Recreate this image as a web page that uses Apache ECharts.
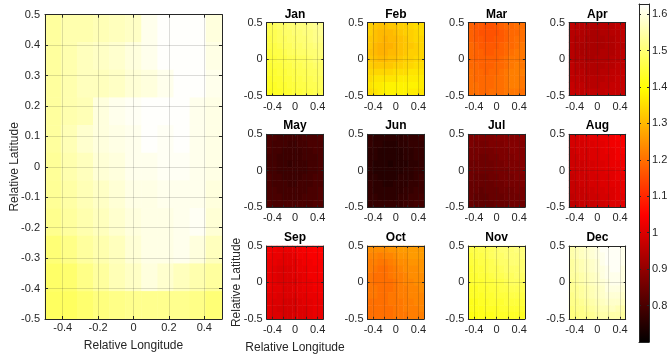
<!DOCTYPE html>
<html>
<head>
<meta charset="utf-8">
<script src="https://cdn.jsdelivr.net/npm/echarts@6/dist/echarts.min.js"></script>
<style>
  html, body { margin: 0; padding: 0; background: #ffffff; }
  #chart { width: 670px; height: 362px; }
</style>
</head>
<body>
<div id="chart"></div>
<script>
// Grid cell centres (relative degrees), west→east and south→north
const lonCenters = ['-0.5', '-0.4', '-0.3', '-0.2', '-0.1', '0', '0.1', '0.2', '0.3', '0.4', '0.5'];
const latCenters = ['-0.5', '-0.4', '-0.3', '-0.2', '-0.1', '0', '0.1', '0.2', '0.3', '0.4', '0.5'];

const monthNames = ['Jan', 'Feb', 'Mar', 'Apr', 'May', 'Jun', 'Jul', 'Aug', 'Sep', 'Oct', 'Nov', 'Dec'];

// Tick labels
const mainLonLabels = ['-0.4', '-0.2', '0', '0.2', '0.4'];
const mainLatLabels = ['-0.5', '-0.4', '-0.3', '-0.2', '-0.1', '0', '0.1', '0.2', '0.3', '0.4', '0.5'];
const smallLonLabels = ['-0.4', '0', '0.4'];
const smallLatLabels = ['-0.5', '0', '0.5'];
const colorbarLabels = ['0.8', '0.9', '1', '1.1', '1.2', '1.3', '1.4', '1.5', '1.6'];
const colorRange = [0.7, 1.628];

// Fields: rows run north (0.5) → south (-0.5), columns west (-0.5) → east (0.5)
const annualMean = [
  [1.539, 1.554, 1.554, 1.561, 1.568, 1.575, 1.611, 1.625, 1.625, 1.625, 1.597],
  [1.539, 1.554, 1.568, 1.575, 1.583, 1.597, 1.611, 1.625, 1.625, 1.625, 1.604],
  [1.539, 1.554, 1.568, 1.568, 1.575, 1.590, 1.597, 1.611, 1.625, 1.625, 1.611],
  [1.539, 1.554, 1.561, 1.597, 1.611, 1.618, 1.625, 1.625, 1.625, 1.611, 1.604],
  [1.539, 1.561, 1.583, 1.597, 1.604, 1.611, 1.625, 1.618, 1.625, 1.611, 1.604],
  [1.534, 1.554, 1.568, 1.590, 1.597, 1.611, 1.611, 1.618, 1.618, 1.611, 1.604],
  [1.532, 1.546, 1.561, 1.575, 1.590, 1.604, 1.604, 1.611, 1.611, 1.611, 1.597],
  [1.525, 1.539, 1.554, 1.568, 1.583, 1.597, 1.604, 1.604, 1.611, 1.618, 1.590],
  [1.503, 1.518, 1.539, 1.554, 1.568, 1.590, 1.604, 1.604, 1.611, 1.597, 1.568],
  [1.489, 1.496, 1.518, 1.539, 1.561, 1.575, 1.597, 1.583, 1.568, 1.554, 1.539],
  [1.482, 1.482, 1.496, 1.510, 1.518, 1.525, 1.525, 1.525, 1.525, 1.518, 1.503]
];

const janField = [
  [1.47, 1.48, 1.49, 1.49, 1.50, 1.50, 1.51, 1.51, 1.52, 1.53, 1.53],
  [1.47, 1.47, 1.48, 1.49, 1.49, 1.50, 1.50, 1.51, 1.51, 1.52, 1.53],
  [1.46, 1.47, 1.48, 1.48, 1.49, 1.49, 1.50, 1.50, 1.51, 1.52, 1.52],
  [1.46, 1.46, 1.47, 1.48, 1.48, 1.49, 1.49, 1.50, 1.50, 1.51, 1.51],
  [1.45, 1.46, 1.46, 1.47, 1.48, 1.48, 1.49, 1.49, 1.50, 1.50, 1.51],
  [1.45, 1.45, 1.46, 1.46, 1.47, 1.47, 1.48, 1.48, 1.49, 1.50, 1.50],
  [1.44, 1.45, 1.45, 1.46, 1.46, 1.47, 1.47, 1.48, 1.48, 1.49, 1.49],
  [1.44, 1.44, 1.45, 1.45, 1.46, 1.46, 1.47, 1.47, 1.48, 1.48, 1.49],
  [1.43, 1.44, 1.44, 1.45, 1.45, 1.46, 1.46, 1.47, 1.47, 1.48, 1.48],
  [1.43, 1.43, 1.44, 1.44, 1.45, 1.45, 1.46, 1.46, 1.47, 1.47, 1.48],
  [1.42, 1.43, 1.43, 1.44, 1.44, 1.45, 1.45, 1.46, 1.46, 1.47, 1.47]
];
const febField = [
  [1.33, 1.32, 1.31, 1.31, 1.32, 1.32, 1.33, 1.33, 1.34, 1.35, 1.35],
  [1.33, 1.31, 1.30, 1.30, 1.30, 1.31, 1.32, 1.33, 1.33, 1.34, 1.35],
  [1.32, 1.31, 1.30, 1.29, 1.30, 1.30, 1.31, 1.32, 1.33, 1.34, 1.34],
  [1.32, 1.30, 1.29, 1.29, 1.29, 1.30, 1.31, 1.32, 1.32, 1.33, 1.34],
  [1.31, 1.30, 1.29, 1.29, 1.30, 1.30, 1.31, 1.32, 1.33, 1.33, 1.34],
  [1.32, 1.31, 1.30, 1.30, 1.31, 1.31, 1.32, 1.33, 1.33, 1.34, 1.34],
  [1.33, 1.32, 1.32, 1.32, 1.32, 1.33, 1.33, 1.34, 1.34, 1.35, 1.35],
  [1.34, 1.34, 1.34, 1.34, 1.34, 1.35, 1.35, 1.35, 1.36, 1.36, 1.36],
  [1.35, 1.36, 1.36, 1.36, 1.36, 1.36, 1.37, 1.37, 1.37, 1.37, 1.37],
  [1.36, 1.37, 1.37, 1.38, 1.38, 1.38, 1.38, 1.38, 1.38, 1.38, 1.37],
  [1.35, 1.36, 1.37, 1.38, 1.38, 1.38, 1.38, 1.38, 1.37, 1.37, 1.36]
];
const marField = [
  [1.18, 1.17, 1.17, 1.16, 1.16, 1.17, 1.18, 1.19, 1.19, 1.20, 1.20],
  [1.18, 1.17, 1.16, 1.16, 1.16, 1.16, 1.17, 1.18, 1.19, 1.19, 1.20],
  [1.18, 1.17, 1.17, 1.16, 1.16, 1.17, 1.17, 1.18, 1.19, 1.20, 1.20],
  [1.19, 1.18, 1.17, 1.17, 1.17, 1.17, 1.18, 1.19, 1.19, 1.20, 1.21],
  [1.19, 1.18, 1.18, 1.17, 1.17, 1.18, 1.18, 1.19, 1.20, 1.21, 1.21],
  [1.19, 1.18, 1.18, 1.18, 1.18, 1.18, 1.19, 1.20, 1.21, 1.21, 1.21],
  [1.19, 1.19, 1.18, 1.18, 1.18, 1.19, 1.19, 1.20, 1.21, 1.22, 1.21],
  [1.20, 1.19, 1.19, 1.18, 1.19, 1.19, 1.20, 1.21, 1.22, 1.22, 1.22],
  [1.20, 1.19, 1.19, 1.19, 1.19, 1.20, 1.20, 1.21, 1.22, 1.22, 1.21],
  [1.20, 1.20, 1.19, 1.19, 1.19, 1.20, 1.20, 1.21, 1.22, 1.22, 1.21],
  [1.20, 1.20, 1.19, 1.19, 1.20, 1.20, 1.20, 1.21, 1.21, 1.21, 1.20]
];
const aprField = [
  [0.96, 0.95, 0.95, 0.94, 0.94, 0.94, 0.95, 0.95, 0.95, 0.96, 0.96],
  [0.95, 0.95, 0.94, 0.94, 0.93, 0.93, 0.94, 0.94, 0.95, 0.95, 0.96],
  [0.95, 0.94, 0.94, 0.93, 0.93, 0.93, 0.93, 0.94, 0.94, 0.95, 0.96],
  [0.95, 0.94, 0.93, 0.93, 0.93, 0.93, 0.93, 0.94, 0.94, 0.95, 0.95],
  [0.95, 0.94, 0.93, 0.93, 0.93, 0.93, 0.94, 0.94, 0.94, 0.95, 0.96],
  [0.95, 0.94, 0.94, 0.93, 0.93, 0.94, 0.94, 0.94, 0.95, 0.95, 0.96],
  [0.96, 0.95, 0.94, 0.94, 0.94, 0.94, 0.94, 0.95, 0.95, 0.96, 0.96],
  [0.96, 0.95, 0.95, 0.94, 0.94, 0.94, 0.95, 0.95, 0.96, 0.96, 0.97],
  [0.96, 0.96, 0.95, 0.95, 0.95, 0.95, 0.95, 0.96, 0.96, 0.97, 0.97],
  [0.97, 0.96, 0.96, 0.95, 0.95, 0.95, 0.96, 0.96, 0.97, 0.97, 0.97],
  [0.97, 0.97, 0.96, 0.96, 0.96, 0.96, 0.96, 0.97, 0.97, 0.97, 0.97]
];
const mayField = [
  [0.80, 0.80, 0.79, 0.79, 0.79, 0.79, 0.79, 0.80, 0.80, 0.80, 0.81],
  [0.80, 0.79, 0.79, 0.79, 0.78, 0.78, 0.79, 0.79, 0.80, 0.80, 0.80],
  [0.80, 0.79, 0.79, 0.78, 0.78, 0.78, 0.78, 0.79, 0.79, 0.80, 0.80],
  [0.79, 0.79, 0.78, 0.78, 0.78, 0.78, 0.78, 0.79, 0.79, 0.79, 0.80],
  [0.79, 0.79, 0.78, 0.78, 0.77, 0.78, 0.78, 0.78, 0.79, 0.79, 0.80],
  [0.79, 0.79, 0.78, 0.78, 0.78, 0.78, 0.78, 0.78, 0.79, 0.79, 0.80],
  [0.80, 0.79, 0.79, 0.78, 0.78, 0.78, 0.78, 0.79, 0.79, 0.80, 0.80],
  [0.80, 0.79, 0.79, 0.79, 0.78, 0.78, 0.79, 0.79, 0.79, 0.80, 0.80],
  [0.80, 0.80, 0.79, 0.79, 0.79, 0.79, 0.79, 0.79, 0.80, 0.80, 0.81],
  [0.80, 0.80, 0.80, 0.79, 0.79, 0.79, 0.79, 0.80, 0.80, 0.80, 0.81],
  [0.81, 0.80, 0.80, 0.80, 0.80, 0.80, 0.80, 0.80, 0.80, 0.81, 0.81]
];
const junField = [
  [0.77, 0.76, 0.76, 0.76, 0.76, 0.76, 0.76, 0.77, 0.77, 0.77, 0.78],
  [0.77, 0.76, 0.76, 0.75, 0.75, 0.75, 0.76, 0.76, 0.77, 0.77, 0.77],
  [0.76, 0.76, 0.75, 0.75, 0.75, 0.75, 0.75, 0.76, 0.76, 0.77, 0.77],
  [0.76, 0.76, 0.75, 0.75, 0.75, 0.75, 0.75, 0.76, 0.76, 0.77, 0.77],
  [0.76, 0.75, 0.75, 0.75, 0.74, 0.75, 0.75, 0.75, 0.76, 0.76, 0.77],
  [0.76, 0.75, 0.75, 0.75, 0.75, 0.75, 0.75, 0.76, 0.76, 0.77, 0.77],
  [0.76, 0.76, 0.75, 0.75, 0.75, 0.75, 0.76, 0.76, 0.76, 0.77, 0.78],
  [0.77, 0.76, 0.76, 0.75, 0.75, 0.76, 0.76, 0.76, 0.77, 0.77, 0.78],
  [0.77, 0.76, 0.76, 0.76, 0.76, 0.76, 0.76, 0.77, 0.77, 0.78, 0.78],
  [0.77, 0.77, 0.76, 0.76, 0.76, 0.76, 0.77, 0.77, 0.78, 0.78, 0.79],
  [0.77, 0.77, 0.77, 0.77, 0.77, 0.77, 0.77, 0.78, 0.78, 0.79, 0.79]
];
const julField = [
  [0.87, 0.87, 0.87, 0.87, 0.87, 0.88, 0.88, 0.88, 0.88, 0.88, 0.89],
  [0.87, 0.86, 0.86, 0.86, 0.87, 0.87, 0.87, 0.88, 0.88, 0.88, 0.88],
  [0.86, 0.86, 0.86, 0.86, 0.86, 0.87, 0.87, 0.87, 0.88, 0.88, 0.88],
  [0.86, 0.86, 0.85, 0.85, 0.86, 0.86, 0.87, 0.87, 0.87, 0.88, 0.88],
  [0.85, 0.85, 0.85, 0.85, 0.85, 0.86, 0.86, 0.87, 0.87, 0.87, 0.88],
  [0.85, 0.85, 0.85, 0.85, 0.85, 0.86, 0.86, 0.86, 0.87, 0.87, 0.88],
  [0.85, 0.84, 0.84, 0.84, 0.85, 0.85, 0.86, 0.86, 0.86, 0.87, 0.87],
  [0.84, 0.84, 0.84, 0.84, 0.84, 0.85, 0.85, 0.86, 0.86, 0.86, 0.87],
  [0.84, 0.84, 0.83, 0.84, 0.84, 0.84, 0.85, 0.85, 0.85, 0.86, 0.86],
  [0.84, 0.83, 0.83, 0.83, 0.84, 0.84, 0.84, 0.85, 0.85, 0.85, 0.86],
  [0.84, 0.83, 0.83, 0.83, 0.83, 0.84, 0.84, 0.84, 0.85, 0.85, 0.85]
];
const augField = [
  [0.99, 0.99, 1.00, 1.00, 1.01, 1.01, 1.02, 1.02, 1.03, 1.04, 1.04],
  [0.99, 0.99, 0.99, 1.00, 1.00, 1.01, 1.01, 1.02, 1.03, 1.03, 1.04],
  [0.98, 0.99, 0.99, 0.99, 1.00, 1.00, 1.01, 1.02, 1.02, 1.03, 1.04],
  [0.98, 0.98, 0.99, 0.99, 1.00, 1.00, 1.01, 1.01, 1.02, 1.03, 1.03],
  [0.98, 0.98, 0.98, 0.99, 0.99, 1.00, 1.00, 1.01, 1.02, 1.02, 1.03],
  [0.98, 0.98, 0.98, 0.99, 0.99, 1.00, 1.00, 1.01, 1.01, 1.02, 1.03],
  [0.97, 0.98, 0.98, 0.98, 0.99, 0.99, 1.00, 1.00, 1.01, 1.02, 1.02],
  [0.97, 0.97, 0.98, 0.98, 0.99, 0.99, 1.00, 1.00, 1.01, 1.01, 1.02],
  [0.97, 0.97, 0.97, 0.98, 0.98, 0.99, 0.99, 1.00, 1.00, 1.01, 1.02],
  [0.96, 0.97, 0.97, 0.97, 0.98, 0.98, 0.99, 0.99, 1.00, 1.01, 1.01],
  [0.96, 0.96, 0.97, 0.97, 0.97, 0.98, 0.98, 0.99, 1.00, 1.00, 1.01]
];
const sepField = [
  [1.03, 1.03, 1.02, 1.02, 1.02, 1.03, 1.03, 1.04, 1.04, 1.05, 1.05],
  [1.03, 1.02, 1.02, 1.01, 1.01, 1.02, 1.03, 1.03, 1.04, 1.04, 1.05],
  [1.02, 1.02, 1.01, 1.01, 1.01, 1.01, 1.02, 1.03, 1.03, 1.04, 1.04],
  [1.02, 1.01, 1.00, 1.00, 1.00, 1.01, 1.02, 1.02, 1.03, 1.03, 1.04],
  [1.02, 1.01, 1.00, 1.00, 1.00, 1.01, 1.01, 1.02, 1.03, 1.03, 1.04],
  [1.02, 1.01, 1.00, 1.00, 1.00, 1.00, 1.01, 1.02, 1.02, 1.03, 1.03],
  [1.02, 1.01, 1.01, 1.00, 1.00, 1.01, 1.01, 1.02, 1.02, 1.03, 1.03],
  [1.01, 1.01, 1.00, 1.00, 1.00, 1.00, 1.01, 1.01, 1.02, 1.02, 1.03],
  [1.01, 1.00, 1.00, 0.99, 0.99, 0.99, 1.00, 1.01, 1.01, 1.02, 1.02],
  [1.01, 1.00, 0.99, 0.99, 0.99, 0.99, 1.00, 1.00, 1.01, 1.02, 1.02],
  [1.01, 1.00, 1.00, 0.99, 0.99, 1.00, 1.00, 1.00, 1.01, 1.02, 1.02]
];
const octField = [
  [1.24, 1.24, 1.24, 1.24, 1.25, 1.25, 1.26, 1.26, 1.26, 1.26, 1.26],
  [1.23, 1.23, 1.22, 1.23, 1.23, 1.24, 1.25, 1.25, 1.26, 1.26, 1.26],
  [1.22, 1.22, 1.21, 1.21, 1.22, 1.23, 1.24, 1.24, 1.25, 1.25, 1.25],
  [1.22, 1.21, 1.20, 1.20, 1.21, 1.22, 1.23, 1.24, 1.24, 1.24, 1.25],
  [1.21, 1.20, 1.20, 1.20, 1.21, 1.22, 1.22, 1.23, 1.24, 1.24, 1.24],
  [1.21, 1.20, 1.20, 1.20, 1.20, 1.21, 1.22, 1.23, 1.23, 1.24, 1.24],
  [1.21, 1.21, 1.20, 1.20, 1.20, 1.21, 1.22, 1.22, 1.23, 1.23, 1.24],
  [1.21, 1.21, 1.20, 1.20, 1.21, 1.21, 1.22, 1.22, 1.23, 1.23, 1.23],
  [1.20, 1.20, 1.20, 1.20, 1.21, 1.21, 1.21, 1.22, 1.22, 1.23, 1.23],
  [1.20, 1.20, 1.20, 1.20, 1.20, 1.21, 1.21, 1.22, 1.22, 1.22, 1.23],
  [1.20, 1.20, 1.20, 1.20, 1.20, 1.21, 1.21, 1.21, 1.22, 1.22, 1.22]
];
const novField = [
  [1.46, 1.46, 1.47, 1.47, 1.48, 1.49, 1.50, 1.50, 1.50, 1.51, 1.51],
  [1.45, 1.46, 1.46, 1.47, 1.48, 1.49, 1.49, 1.50, 1.50, 1.50, 1.51],
  [1.45, 1.45, 1.46, 1.46, 1.47, 1.48, 1.49, 1.49, 1.50, 1.50, 1.50],
  [1.44, 1.45, 1.45, 1.46, 1.47, 1.47, 1.48, 1.49, 1.49, 1.49, 1.50],
  [1.44, 1.44, 1.45, 1.45, 1.46, 1.47, 1.47, 1.48, 1.48, 1.49, 1.49],
  [1.44, 1.44, 1.44, 1.45, 1.45, 1.46, 1.46, 1.47, 1.48, 1.48, 1.48],
  [1.43, 1.43, 1.44, 1.44, 1.45, 1.45, 1.46, 1.46, 1.47, 1.47, 1.47],
  [1.43, 1.43, 1.43, 1.44, 1.44, 1.45, 1.45, 1.45, 1.46, 1.46, 1.46],
  [1.42, 1.42, 1.43, 1.43, 1.44, 1.44, 1.44, 1.45, 1.45, 1.45, 1.45],
  [1.42, 1.42, 1.42, 1.43, 1.43, 1.43, 1.44, 1.44, 1.44, 1.44, 1.44],
  [1.41, 1.41, 1.42, 1.42, 1.42, 1.43, 1.43, 1.43, 1.43, 1.43, 1.43]
];
const decField = [
  [1.55, 1.56, 1.57, 1.58, 1.59, 1.60, 1.62, 1.62, 1.62, 1.62, 1.61],
  [1.55, 1.56, 1.57, 1.58, 1.59, 1.60, 1.61, 1.62, 1.62, 1.62, 1.61],
  [1.54, 1.55, 1.56, 1.57, 1.58, 1.59, 1.61, 1.62, 1.62, 1.62, 1.61],
  [1.54, 1.55, 1.56, 1.57, 1.58, 1.59, 1.60, 1.61, 1.62, 1.62, 1.60],
  [1.54, 1.54, 1.55, 1.56, 1.57, 1.58, 1.60, 1.61, 1.61, 1.61, 1.60],
  [1.53, 1.54, 1.55, 1.56, 1.57, 1.58, 1.59, 1.60, 1.61, 1.61, 1.60],
  [1.53, 1.53, 1.54, 1.55, 1.56, 1.57, 1.58, 1.60, 1.60, 1.60, 1.59],
  [1.52, 1.53, 1.54, 1.55, 1.56, 1.57, 1.58, 1.59, 1.59, 1.59, 1.58],
  [1.52, 1.52, 1.53, 1.54, 1.55, 1.56, 1.57, 1.58, 1.58, 1.58, 1.57],
  [1.51, 1.52, 1.52, 1.53, 1.54, 1.55, 1.56, 1.56, 1.57, 1.56, 1.55],
  [1.51, 1.51, 1.52, 1.52, 1.53, 1.54, 1.55, 1.55, 1.55, 1.55, 1.54]
];
const monthlyFields = [janField, febField, marField, aprField, mayField, junField,
                       julField, augField, sepField, octField, novField, decField];

// "hot" colour ramp: black → red → yellow → white, evenly spaced stops
const hotPalette = ['#030000', '#550000', '#aa0000', '#ff0000', '#ff5500',
                    '#ffaa00', '#ffff00', '#ffff80', '#ffffff'];

// ---- layout ----
const FONT = '"Liberation Sans", Arial, Helvetica, sans-serif';
const INK = '#262626';
const GRIDLINE = 'rgba(38,38,38,0.16)';
const mainBox = { left: 45, top: 14.7, width: 177, height: 304.3 };
const smallLefts = [266.7, 367.5, 468.3, 569.1];
const smallTops = [22.7, 134.3, 246];
const smallW = 56.6, smallH = 72.8;
const cbarBox = { left: 639, top: 4, width: 10, height: 338 };

function pickLabel(allowed) {
  return function (v) {
    const r = Math.round(v * 10) / 10;
    if (Math.abs(v - r) > 1e-6) return '';
    const s = (r === 0) ? '0' : String(r);
    return allowed.indexOf(s) >= 0 ? s : '';
  };
}

const grids = [], xAxes = [], yAxes = [], series = [], titles = [];

function toCells(field) {
  const out = [];
  const n = field.length;
  for (let r = 0; r < n; r++) {
    for (let c = 0; c < field[r].length; c++) {
      out.push([c, n - 1 - r, field[r][c]]);
    }
  }
  return out;
}

function addPanel(box, field, cfg) {
  const gi = grids.length;
  grids.push({
    left: box.left, top: box.top, width: box.width, height: box.height,
    containLabel: false, outerBoundsMode: 'none'
  });
  const catX = xAxes.length;
  xAxes.push({ type: 'category', gridIndex: gi, data: lonCenters, show: false });
  const catY = yAxes.length;
  yAxes.push({ type: 'category', gridIndex: gi, data: latCenters, show: false });

  const line = { show: true, onZero: false, lineStyle: { color: INK, width: 1 } };
  const tick = { show: true, inside: true, length: cfg.tickLen, lineStyle: { color: INK, width: 1 } };
  const labelStyle = { color: INK, fontFamily: FONT, fontSize: 11 };
  const nameStyle = { color: INK, fontFamily: FONT, fontSize: 12 };

  xAxes.push({
    type: 'value', gridIndex: gi, position: 'bottom', min: -0.5, max: 0.5, splitNumber: 5, z: 10,
    axisLine: line, axisTick: tick,
    axisLabel: Object.assign({ show: true, margin: cfg.xMargin, formatter: pickLabel(cfg.lonLabels) }, labelStyle),
    splitLine: { show: true, lineStyle: { color: GRIDLINE, width: 1 } },
    name: cfg.xName || '', nameLocation: 'middle', nameGap: cfg.xNameGap, nameMoveOverlap: false,
    nameTextStyle: nameStyle
  });
  xAxes.push({
    type: 'value', gridIndex: gi, position: 'top', min: -0.5, max: 0.5, splitNumber: 5, z: 10,
    axisLine: line, axisTick: tick, axisLabel: { show: false }, splitLine: { show: false }
  });
  yAxes.push({
    type: 'value', gridIndex: gi, position: 'left', min: -0.5, max: 0.5, interval: cfg.latStep, z: 10,
    axisLine: line, axisTick: tick,
    axisLabel: Object.assign({ show: true, margin: cfg.yMargin, formatter: pickLabel(cfg.latLabels) }, labelStyle),
    splitLine: { show: true, lineStyle: { color: GRIDLINE, width: 1 } },
    name: cfg.yName || '', nameLocation: 'middle', nameGap: cfg.yNameGap, nameRotate: 90, nameMoveOverlap: false,
    nameTextStyle: nameStyle
  });
  yAxes.push({
    type: 'value', gridIndex: gi, position: 'right', min: -0.5, max: 0.5, interval: cfg.latStep, z: 10,
    axisLine: line, axisTick: tick, axisLabel: { show: false }, splitLine: { show: false }
  });

  series.push({
    type: 'heatmap', xAxisIndex: catX, yAxisIndex: catY,
    data: toCells(field), itemStyle: { borderWidth: 0 },
    emphasis: { disabled: true }, silent: true
  });

  if (cfg.title) {
    titles.push({
      text: cfg.title, left: box.left + box.width / 2, top: box.top - 14.5, textAlign: 'center', padding: 0,
      textStyle: { fontFamily: FONT, fontSize: 12, fontWeight: 'bold', color: '#000000' }
    });
  }
}

// Annual mean panel
addPanel(mainBox, annualMean, {
  tickLen: 3, xMargin: 3, yMargin: 5, latStep: 0.1,
  lonLabels: mainLonLabels, latLabels: mainLatLabels,
  xName: 'Relative Longitude', xNameGap: 20.5,
  yName: 'Relative Latitude', yNameGap: 24
});

// Monthly panels
monthNames.forEach(function (m, i) {
  const row = Math.floor(i / 4), col = i % 4;
  const labelled = (i === 8);
  addPanel({ left: smallLefts[col], top: smallTops[row], width: smallW, height: smallH }, monthlyFields[i], {
    tickLen: 2, xMargin: 5.5, yMargin: 4, latStep: 0.5,
    lonLabels: smallLonLabels, latLabels: smallLatLabels,
    xName: labelled ? 'Relative Longitude' : '', xNameGap: 22.5,
    yName: labelled ? 'Relative Latitude' : '', yNameGap: 24,
    title: m
  });
});

// Colour bar frame and scale
const cbGrid = grids.length;
grids.push({ left: cbarBox.left, top: cbarBox.top, width: cbarBox.width, height: cbarBox.height,
             containLabel: false, outerBoundsMode: 'none' });
const cbLine = { show: true, onZero: false, lineStyle: { color: INK, width: 1 } };
xAxes.push({ type: 'value', gridIndex: cbGrid, position: 'bottom', min: 0, max: 1, z: 10,
             axisLine: cbLine, axisTick: { show: false }, axisLabel: { show: false }, splitLine: { show: false } });
xAxes.push({ type: 'value', gridIndex: cbGrid, position: 'top', min: 0, max: 1, z: 10,
             axisLine: cbLine, axisTick: { show: false }, axisLabel: { show: false }, splitLine: { show: false } });
yAxes.push({ type: 'value', gridIndex: cbGrid, position: 'right', min: colorRange[0], max: colorRange[1], interval: 0.1, z: 10,
             axisLine: cbLine,
             axisTick: { show: true, inside: true, length: 2, lineStyle: { color: INK } },
             axisLabel: { show: true, margin: 3, color: INK, fontFamily: FONT, fontSize: 11,
                          showMinLabel: false, showMaxLabel: false, formatter: pickLabel(colorbarLabels) },
             splitLine: { show: false } });
yAxes.push({ type: 'value', gridIndex: cbGrid, position: 'left', min: colorRange[0], max: colorRange[1], interval: 0.1, z: 10,
             axisLine: cbLine,
             axisTick: { show: true, inside: true, length: 2, lineStyle: { color: INK } },
             axisLabel: { show: false }, splitLine: { show: false } });

const chart = echarts.init(document.getElementById('chart'), null, { renderer: 'canvas' });
chart.setOption({
  animation: false,
  backgroundColor: '#ffffff',
  title: titles,
  grid: grids,
  xAxis: xAxes,
  yAxis: yAxes,
  visualMap: {
    type: 'continuous', show: false,
    min: colorRange[0], max: colorRange[1],
    inRange: { color: hotPalette }
  },
  graphic: [{
    type: 'rect', z: 1, silent: true,
    shape: { x: cbarBox.left, y: cbarBox.top, width: cbarBox.width, height: cbarBox.height },
    style: {
      fill: new echarts.graphic.LinearGradient(0, 1, 0, 0,
        hotPalette.map(function (c, k) { return { offset: k / (hotPalette.length - 1), color: c }; }))
    }
  }],
  series: series
});
</script>
</body>
</html>
